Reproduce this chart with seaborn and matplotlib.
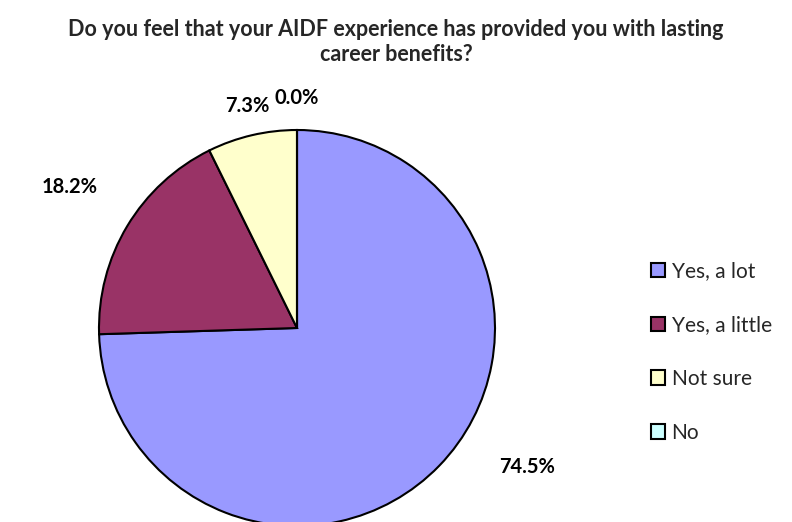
import matplotlib
matplotlib.use("Agg")
import matplotlib.pyplot as plt
import seaborn as sns

# survey answers, share of respondents (%)
answers = ['Yes, a lot', 'Yes, a little', 'Not sure', 'No']
shares = [74.5, 18.2, 7.3, 0.0]
colors = ['#9999FF', '#993366', '#FFFFCC', '#CCFFFF']
title = 'Do you feel that your AIDF experience has provided you with lasting\ncareer benefits?'

# where the percent labels sit (pie radius units, from centre)
label_pos = [(1.16, -0.70), (-1.15, 0.71), (-0.25, 1.12), (0.0, 1.16)]

sns.set_style('white')
plt.rcParams['font.family'] = ['Lato', 'DejaVu Sans']

fig = plt.figure(figsize=(7.92, 5.22), dpi=100)
cx, cy, r = 297, 328, 198
ax = fig.add_axes([(cx - r) / 792, (522 - cy - r) / 522, 2 * r / 792, 2 * r / 522])

wedges, texts, autotexts = ax.pie(
    shares, colors=colors, startangle=90, counterclock=False,
    autopct='%.1f%%', pctdistance=1.2,
    wedgeprops=dict(edgecolor='black', linewidth=1.5),
    textprops=dict(fontsize=14.5, fontweight='bold', color='black'),
)
for t, pos in zip(autotexts, label_pos):
    t.set_position(pos)
    t.set_ha('center')
    t.set_va('center')
ax.set_xlim(-1, 1)
ax.set_ylim(-1, 1)
ax.set_aspect('equal')
ax.axis('off')

fig.text(0.5, 1 - 42 / 522, title, ha='center', va='center',
         fontsize=15.5, fontweight='bold', linespacing=1.25)

leg = fig.legend(wedges, answers, loc='center left', bbox_to_anchor=(632 / 792, 1 - 352 / 522),
                 frameon=False, fontsize=15, labelspacing=1.62,
                 handlelength=0.7, handleheight=0.7, handletextpad=0.3)

plt.savefig('out.png', dpi=100)
